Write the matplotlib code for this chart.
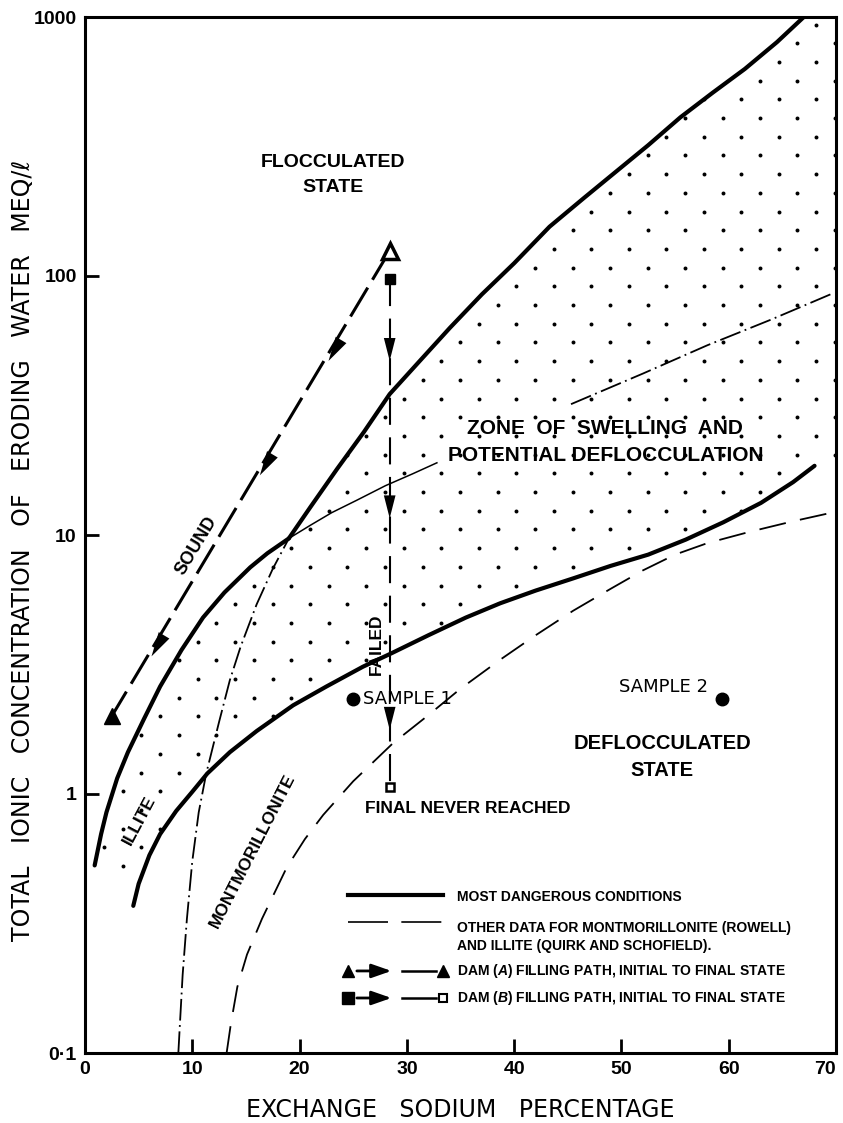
import numpy as np
import matplotlib
matplotlib.use('Agg')
import matplotlib.pyplot as plt
from matplotlib.patches import Polygon

BOLDF = ['Liberation Sans', 'DejaVu Sans']
plt.rcParams['font.family'] = ['DejaVu Sans']
plt.rcParams['mathtext.fontset'] = 'custom'
plt.rcParams['mathtext.it'] = 'Liberation Sans:bold:italic'
plt.rcParams['mathtext.rm'] = 'Liberation Sans:bold'

# 数据
# 伊利石曲线 (上部: 粗实线 -> 细实线 -> 点划线)
illite_x = [0.9, 1.5, 2.0, 3.0, 4.0, 5.5, 7.0, 9.0, 11.0, 13.0, 15.4, 17.0, 19.0,
            21.0, 23.0, 25.3, 28.0, 30.5, 32.8,
            45.3, 52.0, 58.0, 64.0, 69.5]
illite_y = [0.53, 0.70, 0.85, 1.15, 1.45, 1.95, 2.6, 3.6, 4.8, 6.0, 7.5, 8.5, 9.7,
            10.9, 12.2, 13.6, 15.5, 17.2, 19.0,
            32, 42, 54, 68, 85]

# 蒙脱石曲线 (陡峭, 下段点划线, 19 以上为粗实线)
mont_x = [8.7, 8.85, 9.1, 9.5, 10.0, 10.6, 11.3, 12.5, 13.5, 14.5, 16.0, 17.5, 19.0,
          21.0, 23.5, 26.0, 28.4, 31.0, 34.0, 37.0, 40.0, 43.3, 46.5, 49.6, 52.5,
          55.5, 58.5, 61.5, 64.5, 67.0]
mont_y = [0.1, 0.13, 0.2, 0.33, 0.55, 0.85, 1.2, 1.9, 2.75, 3.7, 5.4, 7.4, 9.7,
          12.8, 18, 25, 35, 46, 63, 85, 112, 155, 200, 255, 320,
          410, 510, 630, 800, 1000]

# 下部粗实线
lower_x = [4.5, 5.0, 6.0, 7.0, 8.5, 10.0, 11.4, 13.5, 16.0, 19.4, 22.5, 25.9, 28.6,
           32.0, 35.5, 38.7, 42.0, 45.5, 49.0, 52.5, 56.0, 59.5, 63.0, 66.0, 68.0]
lower_y = [0.37, 0.45, 0.58, 0.70, 0.86, 1.02, 1.2, 1.45, 1.75, 2.2, 2.6, 3.1, 3.5,
           4.1, 4.8, 5.45, 6.1, 6.8, 7.6, 8.4, 9.6, 11.2, 13.3, 16.0, 18.5]

# Rowell 蒙脱石数据 (虚线)
rowell_x = [13.2, 13.6, 14.2, 15.1, 16.5, 18.8, 20.5, 22.2, 25.0, 28.7, 31.9, 35.0,
            38.7, 42.0, 45.5, 49.0, 52.0, 55.0, 58.0, 62.0, 66.0, 70.0]
rowell_y = [0.1, 0.13, 0.18, 0.24, 0.33, 0.52, 0.67, 0.83, 1.12, 1.57, 2.0, 2.55,
            3.3, 4.1, 5.1, 6.2, 7.3, 8.4, 9.3, 10.3, 11.3, 12.3]

# 坝 A / 坝 B 充水路径
damA_x = [28.4, 2.5]
damA_y = [125, 2.0]
damA_arrow_x = [22.7, 16.3, 6.2]
damA_arrow_y = [47, 17, 3.4]
damB_x = [28.4, 28.4]
damB_y = [97, 1.06]
damB_arrow_x = [28.4, 28.4, 28.4]
damB_arrow_y = [47, 11.6, 1.77]

# 样本点
sample_x = [25.0, 59.4]
sample_y = [2.33, 2.33]

xticks = [0, 10, 20, 30, 40, 50, 60, 70]
yticks = [0.1, 1, 10, 100, 1000]
ytick_labels = ['0·1', '1', '10', '100', '1000']

# 绘图
fig = plt.figure(figsize=(8.43, 11.23), dpi=100)
ax = fig.add_axes([85 / 843, 70 / 1123, 751 / 843, 1036 / 1123])
ax.set_yscale('log')
ax.set_xlim(0, 70)
ax.set_ylim(0.1, 1000)

ix = np.array(illite_x); iy = np.array(illite_y)
mx = np.array(mont_x); my = np.array(mont_y)

# 点状区域 (膨胀与潜在分散区)
up_x = list(ix[ix <= 19]) + list(mx[mx > 19]) + [70]
up_y = list(iy[ix <= 19]) + list(my[mx > 19]) + [1000]
verts = list(zip(up_x, up_y)) + [(70, lower_y[-1])] + list(zip(lower_x[::-1], lower_y[::-1]))
zone = Polygon(verts, closed=True, facecolor='none', edgecolor='none')
ax.add_patch(zone)
dy = 18.7 / 1036
dx = 37.5 / 751
gx, gy = [], []
for j, yy in enumerate(np.arange(0, 1.0, dy)):
    for xx in np.arange((j % 2) * dx / 2, 1.0, dx):
        gx.append(xx); gy.append(yy)
dots = ax.scatter(gx, gy, s=8, color='black', linewidths=0, transform=ax.transAxes, zorder=1)
dots.set_clip_path(zone)

# 曲线
m = ix <= 19
ax.plot(ix[m], iy[m], color='black', lw=3, solid_capstyle='round', zorder=3)
m = (ix >= 19) & (ix <= 33)
ax.plot(ix[m], iy[m], color='black', lw=1.1, zorder=3)
m = ix >= 45
ax.plot(ix[m], iy[m], color='black', lw=1.3, dashes=(12, 2.5, 1, 2.5), zorder=3)

m = mx <= 19
ax.plot(mx[m], my[m], color='black', lw=1.3, dashes=(12, 2.5, 1, 2.5), zorder=3)
m = mx >= 19
ax.plot(mx[m], my[m], color='black', lw=3, solid_capstyle='round', zorder=3)

ax.plot(lower_x, lower_y, color='black', lw=3, solid_capstyle='round', zorder=3)
ax.plot(rowell_x, rowell_y, color='black', lw=1.3, dashes=(15, 8), zorder=3)

arrow_style = '-|>,head_length=1.1,head_width=0.28'

# 坝 A 路径
ax.plot(damA_x, damA_y, color='black', lw=2.2, dashes=(11, 3), zorder=4)
ax.plot(damA_x[0], damA_y[0], marker='^', ms=12, mfc='white', mec='black', mew=2.5, zorder=5)
ax.plot(damA_x[1], damA_y[1], marker='^', ms=12, color='black', zorder=5)
slopeA = (np.log10(damA_y[0]) - np.log10(damA_y[1])) / (damA_x[0] - damA_x[1])
for x, y in zip(damA_arrow_x, damA_arrow_y):
    ax.annotate('', xy=(x, y), xytext=(x + 1.0, y * 10 ** (slopeA * 1.0)),
                arrowprops=dict(arrowstyle=arrow_style, color='black', lw=0,
                                shrinkA=0, shrinkB=0, mutation_scale=16), zorder=5)

# 坝 B 路径
ax.plot(damB_x, damB_y, color='black', lw=1.5, dashes=(13, 6), zorder=4)
ax.plot(damB_x[0], damB_y[0], marker='s', ms=7, color='black', zorder=5)
ax.plot(damB_x[1], damB_y[1], marker='s', ms=6, mfc='white', mec='black', mew=1.8, zorder=5)
for x, y in zip(damB_arrow_x, damB_arrow_y):
    ax.annotate('', xy=(x, y), xytext=(x, y * 1.25),
                arrowprops=dict(arrowstyle=arrow_style, color='black', lw=0,
                                shrinkA=0, shrinkB=0, mutation_scale=15), zorder=5)

# 样本
ax.plot(sample_x, sample_y, 'o', color='black', ms=9, zorder=5)

# 文字
bold = dict(family=BOLDF, fontweight='bold', color='black')
ax.text(23.1, 245, 'FLOCCULATED\nSTATE', ha='center', va='center', fontsize=14,
        linespacing=1.6, **bold)
ax.text(48.5, 22.9, 'ZONE  OF  SWELLING  AND\nPOTENTIAL DEFLOCCULATION', ha='center',
        va='center', fontsize=15, linespacing=1.55, zorder=6, **bold)
ax.text(53.8, 1.39, 'DEFLOCCULATED\nSTATE', ha='center', va='center', fontsize=14.5,
        linespacing=1.55, **bold)
ax.text(25.9, 2.33, 'SAMPLE 1', ha='left', va='center', fontsize=13)
ax.text(58.1, 2.6, 'SAMPLE 2', ha='right', va='center', fontsize=13)
ax.text(26.1, 0.88, 'FINAL NEVER REACHED', ha='left', va='center', fontsize=12.5, **bold)
ax.text(27.2, 3.8, 'FAILED', ha='center', va='center', fontsize=12.5, rotation=90, **bold)
ax.text(10.4, 9.1, 'SOUND', ha='center', va='center', fontsize=13, rotation=59, **bold)
ax.text(5.1, 0.79, 'ILLITE', ha='center', va='center', fontsize=12.5, rotation=62, **bold)
ax.text(15.6, 0.6, 'MONTMORILLONITE', ha='center', va='center', fontsize=12.5,
        rotation=63, **bold)

# 图例 (手绘)
T = ax.transAxes
lx0, lx1, tx = 0.350, 0.477, 0.495
lfs = 10
ax.plot([lx0, lx1], [0.1525, 0.1525], transform=T, color='black', lw=3)
ax.text(tx, 0.1506, 'MOST DANGEROUS CONDITIONS', transform=T, va='center', fontsize=lfs, **bold)
ax.plot([lx0, lx1], [0.1264, 0.1264], transform=T, color='black', lw=1.2, dashes=(24, 8))
ax.text(tx, 0.112, 'OTHER DATA FOR MONTMORILLONITE (ROWELL)\nAND ILLITE (QUIRK AND SCHOFIELD).',
        transform=T, va='center', fontsize=lfs, linespacing=1.3, **bold)
for yy, mk, label in [(0.0792, '^', 'DAM $\\it{(A)}$ FILLING PATH, INITIAL TO FINAL STATE'),
                      (0.0531, 's', 'DAM $\\it{(B)}$ FILLING PATH, INITIAL TO FINAL STATE')]:
    ax.plot([lx0], [yy], transform=T, marker=mk, ms=8, color='black')
    ax.annotate('', xy=(0.408, yy), xytext=(0.362, yy), xycoords=T, textcoords=T,
                arrowprops=dict(arrowstyle='-|>,head_length=1.0,head_width=0.35',
                                color='black', lw=2, shrinkA=0, shrinkB=0,
                                mutation_scale=12))
    ax.plot([0.422, 0.468], [yy, yy], transform=T, color='black', lw=1.8)
    if mk == '^':
        ax.plot([lx1], [yy], transform=T, marker='^', ms=8, color='black')
    else:
        ax.plot([lx1], [yy], transform=T, marker='s', ms=6, mfc='white', mec='black', mew=1.5)
    ax.text(tx, yy, label, transform=T, va='center', fontsize=lfs, **bold)

# 坐标轴
ax.set_xticks(xticks)
ax.set_xticklabels([str(v) for v in xticks], family=BOLDF, fontweight='bold', fontsize=14)
ax.get_xticklabels()[-1].set_horizontalalignment('right')
ax.set_yticks(yticks)
ax.set_yticklabels(ytick_labels, family=BOLDF, fontweight='bold', fontsize=14)
ax.yaxis.set_minor_locator(matplotlib.ticker.NullLocator())
ax.tick_params(direction='in', length=10, width=2, pad=6)
for s in ax.spines.values():
    s.set_linewidth(2.2)

ax.set_xlabel('EXCHANGE   SODIUM   PERCENTAGE', fontsize=17)
ax.xaxis.set_label_coords(0.5, -0.043)
ax.set_ylabel('TOTAL   IONIC   CONCENTRATION   OF   ERODING   WATER   MEQ/ℓ', fontsize=17)
ax.yaxis.set_label_coords(-0.066, 0.4855)

plt.savefig('out.png', dpi=100)
